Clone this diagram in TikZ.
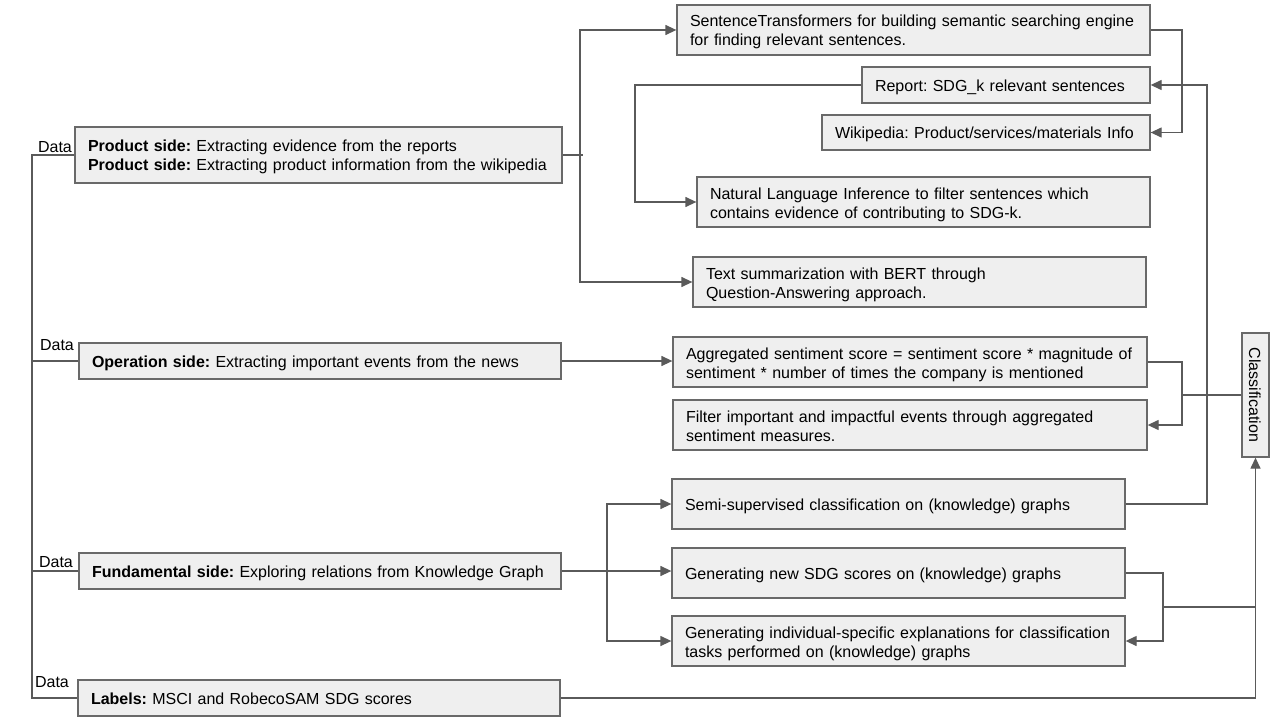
\documentclass[tikz,border=0pt]{standalone}
\usepackage{fontspec}
\setmainfont{Liberation Sans}
\usetikzlibrary{arrows.meta, calc}
\definecolor{myfill}{RGB}{239,239,239}
\definecolor{myborder}{RGB}{105,105,105}
\definecolor{myline}{RGB}{90,90,90}
\frenchspacing
\tikzset{
  graybox/.style={draw=myborder, fill=myfill, line width=1.3pt, inner xsep=13pt,
    inner ysep=0pt, minimum height=50pt, align=left, font=\fontsize{16}{19}\selectfont,
    execute at begin node={\rule{0pt}{17pt}}, execute at end node={\rule[-4pt]{0pt}{4pt}}},
  datatext/.style={inner sep=0, font=\fontsize{16}{19}\selectfont},
  conn/.style={draw=myline, line width=1.3pt},
  arr/.style={conn, -{Triangle[length=11pt,width=10pt]}}
}

\begin{document}
\begin{tikzpicture}[x=1pt,y=-1pt]
\useasboundingbox (0,0) rectangle (1281,722);

% data sources
\node [graybox, text width=461pt, minimum height=56pt] (prod) at (318.5,155) {\textbf{Product side:} Extracting evidence from the reports\\\textbf{Product side:} Extracting product information from the wikipedia};
\node [graybox, text width=456pt, minimum height=36pt] (oper) at (320,361) {\textbf{Operation side:} Extracting important events from the news};
\node [graybox, text width=456pt, minimum height=36pt] (fund) at (320,571) {\textbf{Fundamental side:} Exploring relations from Knowledge Graph};
\node [graybox, text width=456pt, minimum height=36pt] (labl) at (319,698) {\textbf{Labels:} MSCI and RobecoSAM SDG scores};

\node [datatext] (dprod) at (55,147) {Data};
\node [datatext] (doper) at (57,345) {Data};
\node [datatext] (dfund) at (56,562) {Data};
\node [datatext] (dlabl) at (52,682) {Data};

% product side
\node [graybox, text width=447pt] (sent) at (913.5,30) {SentenceTransformers for building semantic searching engine\\for finding relevant sentences.};
\node [graybox, text width=262pt, minimum height=36pt] (rept) at (1006,85) {Report: SDG\_k relevant sentences};
\node [graybox, text width=302pt, minimum height=35pt] (wiki) at (986,132.5) {Wikipedia: Product/services/materials Info};
\node [graybox, text width=427pt] (nli) at (923.5,202) {Natural Language Inference to filter sentences which\\contains evidence of contributing to SDG-k.};
\node [graybox, text width=427pt] (summ) at (919.5,282) {Text summarization with BERT through\\Question-Answering approach.};

% operation side
\node [graybox, text width=448pt] (aggr) at (910,362) {Aggregated sentiment score = sentiment score * magnitude of\\sentiment * number of times the company is mentioned};
\node [graybox, text width=448pt] (filt) at (910,425) {Filter important and impactful events through aggregated\\sentiment measures.};

% fundamental side
\node [graybox, text width=427pt] (semi) at (898.5,504) {Semi-supervised classification on (knowledge) graphs};
\node [graybox, text width=427pt] (gnew) at (898.5,573) {Generating new SDG scores on (knowledge) graphs};
\node [graybox, text width=427pt] (gind) at (898.5,641) {Generating individual-specific explanations for classification\\tasks performed on (knowledge) graphs};

% rotated: south is its left side, east its bottom
\node [graybox, rotate=-90, inner sep=0pt, minimum width=124pt, minimum height=27pt,
  execute at begin node={}, execute at end node={}] (clas) at (1255.5,395) {Classification};

\coordinate (lbus) at (32,0);
\coordinate (pbus) at (580,0);
\coordinate (rbus) at (635,0);
\coordinate (fbus) at (607,0);
\coordinate (sbus) at (1182,0);
\coordinate (kbus) at (1207,0);
\coordinate (abus) at (1182,0);
\coordinate (gbus) at (1163,0);
\coordinate (gmid) at (1163,607);

% left bus
\draw[conn] (prod.west) -- (prod.west -| lbus) |- (labl.west);
\draw[conn] (oper.west) -- (oper.west -| lbus);
\draw[conn] (fund.west) -- (fund.west -| lbus);

% product branch
\draw[conn] (prod.east) -- ($(prod.east -| pbus)+(3,0)$);
\draw[arr] (prod.east -| pbus) |- (sent.west);
\draw[arr] (prod.east -| pbus) |- (summ.west);
\draw[arr] (rept.west) -- (rept.west -| rbus) |- (nli.west);
\draw[arr] (sent.east) -- (sent.east -| sbus) |- (wiki.east);
\draw[arr] (semi.east) -- (semi.east -| kbus) |- (rept.east);

% operation branch
\draw[arr] (oper.east) -- (oper.east -| aggr.west);
\draw[arr] (aggr.east) -- (aggr.east -| abus) |- (filt.east);
\draw[conn] (clas.south) -- (clas.south -| abus);

% fundamental branch
\draw[arr] (fund.east) -- (fund.east -| gnew.west);
\draw[arr] (fund.east -| fbus) |- (semi.west);
\draw[arr] (fund.east -| fbus) |- (gind.west);
\draw[arr] (gnew.east) -- (gnew.east -| gbus) |- (gind.east);
\draw[conn] (gmid) -- (gmid -| clas.east);

% labels
\draw[arr] (labl.east) -| (clas.east);

\end{tikzpicture}
\end{document}
